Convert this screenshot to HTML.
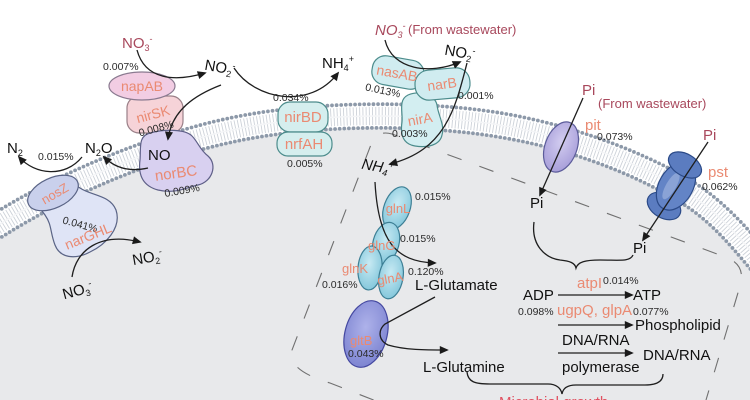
<!DOCTYPE html>
<html><head><meta charset="utf-8"><style>
html,body{margin:0;padding:0;background:#fff;width:750px;height:400px;overflow:hidden;}
body{position:relative;}
svg{display:block;font-family:"Liberation Sans",Arial,sans-serif;overflow:hidden;}
.g{fill:#ea8a72;}
.n{fill:#2a2a2a;font-size:10.5px;}
.c{fill:#111;font-size:15px;}
.r{fill:#a8485c;}
.ar{fill:none;stroke:#1e1e1e;stroke-width:1.3;marker-end:url(#a);}
.ln{fill:none;stroke:#1e1e1e;stroke-width:1.3;}
#mg{position:absolute;left:499px;top:396px;width:140px;height:4px;overflow:hidden;}
#mg div{position:relative;top:-1px;font-family:"Liberation Sans",Arial,sans-serif;font-size:15px;line-height:15px;color:#e05060;white-space:nowrap;}
</style></head><body>
<svg width="750" height="400" viewBox="0 0 750 400">
<defs>
<marker id="a" viewBox="0 0 10 10" refX="8" refY="5" markerWidth="10" markerHeight="9" markerUnits="userSpaceOnUse" orient="auto"><path d="M0,0.5 L10,5 L0,9.5 z" fill="#1a1a1a"/></marker>
<radialGradient id="gb" cx="0.45" cy="0.4" r="0.6"><stop offset="0" stop-color="#c8eaf3"/><stop offset="1" stop-color="#86c8dc"/></radialGradient>
<radialGradient id="gp" cx="0.45" cy="0.4" r="0.6"><stop offset="0" stop-color="#aeb2ea"/><stop offset="1" stop-color="#7f86d2"/></radialGradient>
<radialGradient id="gpit" cx="0.45" cy="0.4" r="0.6"><stop offset="0" stop-color="#d2ccf0"/><stop offset="1" stop-color="#a9a0da"/></radialGradient>
<clipPath id="clip"><rect x="0" y="0" width="750" height="400"/></clipPath>
</defs>
<g clip-path="url(#clip)">
<rect width="750" height="400" fill="#fff"/>
<!-- cell interior -->
<path d="M 0,238 L 2.8,236.3 C 72.8,192.3 154.9,158.5 234.9,141.5 C 304.9,126.5 397,123.8 477,133.8 C 557,143.8 627.7,170.6 677.7,200.6 C 707.7,218.6 726.6,240.4 750,268.5 L 750,400 L 0,400 Z" fill="#e8e9eb"/>
<!-- lipid tails -->
<path d="M -3.6,226.2 C 66.4,182.2 152.5,146.8 232.5,129.8 C 302.5,114.8 398.5,111.9 478.5,121.9 C 558.5,131.9 633.9,160.3 683.9,190.3 C 713.9,208.3 735.8,232.7 760.8,262.7" fill="none" stroke="#cdd2d9" stroke-width="18" stroke-dasharray="0.9 2.3"/>
<path d="M -3.6,226.2 C 66.4,182.2 152.5,146.8 232.5,129.8 C 302.5,114.8 398.5,111.9 478.5,121.9 C 558.5,131.9 633.9,160.3 683.9,190.3 C 713.9,208.3 735.8,232.7 760.8,262.7" fill="none" stroke="#f4f5f7" stroke-width="1.5"/>
<!-- head dots -->
<path d="M -10,216 C 60,172 150,135 230,118 C 300,103 400,100 480,110 C 560,120 640,150 690,180 C 720,198 745,225 770,255" fill="none" stroke="#8d99a9" stroke-width="3.8" stroke-linecap="round" stroke-dasharray="0 4.6"/>
<path d="M -10,244 L 2.8,236.3 C 72.8,192.3 154.9,158.5 234.9,141.5 C 304.9,126.5 397,123.8 477,133.8 C 557,143.8 627.7,170.6 677.7,200.6 C 707.7,218.6 726.6,240.4 751.6,270.4" fill="none" stroke="#8d99a9" stroke-width="3.8" stroke-linecap="round" stroke-dasharray="0 4.6"/>
<!-- dashed compartment -->
<path d="M 373.6,400 L 330,383 Q 286,370 292,350 L 372,142 Q 378,130 392,134 L 728,258 Q 746,266 740,286 L 706,400" fill="none" stroke="#707070" stroke-width="1.1" stroke-dasharray="15 19"/>

<!-- Denitrification proteins -->
<path d="M 35,190 C 50,182 70,180 80,188 C 92,196 110,195 116,210 C 122,228 105,245 90,252 C 75,260 60,258 55,245 C 50,232 52,225 45,215 C 38,205 28,198 35,190 Z" fill="#dfe4f6" stroke="#5a6486" stroke-width="1.2"/>
<ellipse cx="53" cy="193" rx="27" ry="15" transform="rotate(-25 53 193)" fill="#c9d0ec" stroke="#5a6486" stroke-width="1.2"/>
<rect x="127" y="96" width="56" height="37" rx="12" fill="#f6d3d8" stroke="#9a8088" stroke-width="1.2"/>
<ellipse cx="142" cy="86" rx="33" ry="14" fill="#f2cde3" stroke="#8a7a90" stroke-width="1.2"/>
<path d="M 150,133 C 165,129 185,129 192,136 C 198,142 200,150 208,156 C 218,165 212,182 198,185 C 185,188 175,194 158,190 C 143,186 138,175 140,160 C 141,148 138,136 150,133 Z" fill="#d8d0f0" stroke="#5f6088" stroke-width="1.2"/>

<!-- nirBD / nrfAH -->
<rect x="278" y="102" width="50" height="30" rx="12" fill="#d5eeee" stroke="#4c8c8c" stroke-width="1.2"/>
<rect x="277" y="132" width="55" height="24" rx="11" fill="#d5eeee" stroke="#4c8c8c" stroke-width="1.2"/>

<!-- assimilatory -->
<path d="M 408,95 C 420,90 435,95 437,105 C 438,115 445,125 442,135 C 440,145 428,148 415,146 C 403,144 400,135 402,122 C 403,112 398,100 408,95 Z" fill="#d3eef1" stroke="#4c8c8c" stroke-width="1.2"/>
<rect x="372" y="58" width="52" height="29" rx="13" transform="rotate(10 398 72)" fill="#d0ecf0" stroke="#4c8c8c" stroke-width="1.2"/>
<rect x="415" y="69" width="55" height="30" rx="14" transform="rotate(-5 442 84)" fill="#d0ecf0" stroke="#4c8c8c" stroke-width="1.2"/>

<!-- GS/GOGAT -->
<ellipse cx="397" cy="208" rx="13" ry="22" transform="rotate(20 397 208)" fill="url(#gb)" stroke="#3d7f95" stroke-width="1.2"/>
<ellipse cx="386" cy="243" rx="13" ry="21" transform="rotate(15 386 243)" fill="url(#gb)" stroke="#3d7f95" stroke-width="1.2"/>
<ellipse cx="370" cy="268" rx="12" ry="22" transform="rotate(5 370 268)" fill="url(#gb)" stroke="#3d7f95" stroke-width="1.2"/>
<ellipse cx="391" cy="277" rx="12" ry="22" transform="rotate(10 391 277)" fill="url(#gb)" stroke="#3d7f95" stroke-width="1.2"/>
<ellipse cx="366" cy="334" rx="21" ry="34" transform="rotate(15 366 334)" fill="url(#gp)" stroke="#4448a0" stroke-width="1.2"/>

<!-- pit -->
<ellipse cx="561" cy="147" rx="16" ry="26" transform="rotate(20 561 147)" fill="url(#gpit)" stroke="#5c5c9a" stroke-width="1.2"/>
<!-- pst -->
<ellipse cx="664" cy="206" rx="18" ry="12" transform="rotate(30 664 206)" fill="#5b7cc0" stroke="#2b4a88" stroke-width="1.2"/>
<ellipse cx="676" cy="186" rx="17" ry="26" transform="rotate(30 676 186)" fill="#6384c6" stroke="#2b4a88" stroke-width="1.2"/>
<ellipse cx="671" cy="186" rx="5" ry="15" transform="rotate(30 671 186)" fill="#8aa3d6"/>
<ellipse cx="685" cy="165" rx="18" ry="11" transform="rotate(30 685 165)" fill="#5b7cc0" stroke="#2b4a88" stroke-width="1.2"/>

<!-- arrows -->
<path class="ar" d="M 137,50 C 145,80 175,82 205,73"/>
<path class="ar" d="M 221,85 C 195,95 172,110 168,139"/>
<path class="ar" d="M 148,168 C 130,172 115,168 104,157"/>
<path class="ar" d="M 82,157 C 65,178 35,175 19,157"/>
<path class="ar" d="M 72,277 C 76,250 100,232 140,242"/>
<path class="ar" d="M 234,68 C 255,100 310,110 338,73"/>
<path class="ar" d="M 385,40 C 392,70 430,75 460,62"/>
<path class="ar" d="M 467,63 C 455,110 445,150 390,164"/>
<path class="ar" d="M 375,182 C 378,240 395,262 435,263"/>
<path class="ar" d="M 435,297 L 385,324 C 378,330 378,340 388,345 C 405,350 425,350 447,350"/>
<path class="ar" d="M 583,98 L 540,195"/>
<path class="ar" d="M 708,142 L 643,240"/>
<path class="ar" d="M 558,295 L 632,295"/>
<path class="ar" d="M 558,325 L 632,325"/>
<path class="ar" d="M 558,353 L 632,353"/>
<path class="ln" d="M 534,222 C 531,245 545,258 560,260 C 570,261 575,263 576,268 C 578,262 585,260 600,260 C 620,260 630,262 633,255"/>
<path class="ln" d="M 467,372 C 468,382 475,384 490,384 L 548,384 C 556,384 561,388 562,394 C 563,388 568,385 576,385 L 645,385 C 658,385 663,381 663,374"/>

<!-- text: denitrification -->
<text x="122" y="48" class="r" font-size="15">NO<tspan font-size="9" dy="3">3</tspan><tspan font-size="9" dy="-9">-</tspan></text>
<text x="103" y="70" class="n">0.007%</text>
<text x="205" y="72" class="c" transform="rotate(10 218 65)">NO<tspan font-size="9" dy="3">2</tspan><tspan font-size="9" dy="-9">-</tspan></text>
<text x="142" y="91" class="g" font-size="14" text-anchor="middle">napAB</text>
<text x="153" y="119" class="g" font-size="14" text-anchor="middle" transform="rotate(-15 153 114)">nirSK</text>
<text x="156" y="132" class="n" text-anchor="middle" transform="rotate(-15 156 128)">0.008%</text>
<text x="148" y="160" class="c" font-size="17">NO</text>
<text x="176" y="178" class="g" font-size="15" text-anchor="middle" transform="rotate(-8 176 173)">norBC</text>
<text x="182" y="194" class="n" text-anchor="middle" transform="rotate(-10 182 190)">0.009%</text>
<text x="85" y="153" class="c">N<tspan font-size="9" dy="3">2</tspan><tspan dy="-3">O</tspan></text>
<text x="7" y="153" class="c">N<tspan font-size="9" dy="3">2</tspan></text>
<text x="38" y="160" class="n">0.015%</text>
<text x="55" y="198" class="g" font-size="13" text-anchor="middle" transform="rotate(-30 55 194)">nosZ</text>
<text x="80" y="228" class="n" text-anchor="middle" transform="rotate(15 80 225)">0.041%</text>
<text x="88" y="241" class="g" font-size="14" text-anchor="middle" transform="rotate(-22 88 236)">narGHL</text>
<text x="132" y="263" class="c" transform="rotate(-10 145 257)">NO<tspan font-size="9" dy="3">2</tspan><tspan font-size="9" dy="-9">-</tspan></text>
<text x="62" y="296" class="c" transform="rotate(-15 76 290)">NO<tspan font-size="9" dy="3">3</tspan><tspan font-size="9" dy="-9">-</tspan></text>

<!-- DNRA -->
<text x="273" y="101" class="n">0.034%</text>
<text x="322" y="68" class="c">NH<tspan font-size="9" dy="3">4</tspan><tspan font-size="9" dy="-9">+</tspan></text>
<text x="303" y="122" class="g" font-size="15" text-anchor="middle">nirBD</text>
<text x="304" y="149" class="g" font-size="15" text-anchor="middle">nrfAH</text>
<text x="287" y="167" class="n">0.005%</text>

<!-- assimilation -->
<text x="375" y="35" class="r" font-size="15" font-style="italic">NO<tspan font-size="9" dy="3">3</tspan><tspan font-size="9" dy="-9">-</tspan></text>
<text x="408" y="34" class="r" font-size="13">(From wastewater)</text>
<text x="445" y="57" class="c" transform="rotate(10 458 50)">NO<tspan font-size="9" dy="3">2</tspan><tspan font-size="9" dy="-9">-</tspan></text>
<text x="397" y="78" class="g" font-size="14" text-anchor="middle" transform="rotate(10 397 73)">nasAB</text>
<text x="442" y="89" class="g" font-size="14" text-anchor="middle" transform="rotate(-8 442 84)">narB</text>
<text x="383" y="94" class="n" text-anchor="middle" transform="rotate(12 383 90)">0.013%</text>
<text x="458" y="99" class="n">0.001%</text>
<text x="420" y="124" class="g" font-size="14" text-anchor="middle" transform="rotate(-10 420 119)">nirA</text>
<text x="392" y="137" class="n">0.003%</text>
<text x="362" y="171" class="c" font-style="italic" transform="rotate(10 375 164)">NH<tspan font-size="9" dy="3">4</tspan><tspan font-size="9" dy="-9">+</tspan></text>

<!-- GS -->
<text x="398" y="213" class="g" font-size="13" text-anchor="middle">glnL</text>
<text x="415" y="200" class="n">0.015%</text>
<text x="368" y="250" class="g" font-size="13">glnG</text>
<text x="400" y="242" class="n">0.015%</text>
<text x="342" y="273" class="g" font-size="13">glnK</text>
<text x="377" y="283" class="g" font-size="13" transform="rotate(-10 390 278)">glnA</text>
<text x="322" y="288" class="n">0.016%</text>
<text x="408" y="275" class="n">0.120%</text>
<text x="415" y="290" class="c">L-Glutamate</text>
<text x="350" y="345" class="g" font-size="13">gltB</text>
<text x="348" y="357" class="n">0.043%</text>
<text x="423" y="372" class="c">L-Glutamine</text>

<!-- P -->
<text x="582" y="95" class="r" font-size="15">Pi</text>
<text x="598" y="108" class="r" font-size="13">(From wastewater)</text>
<text x="585" y="130" class="g" font-size="15">pit</text>
<text x="597" y="140" class="n">0.073%</text>
<text x="530" y="208" class="c">Pi</text>
<text x="703" y="140" class="r" font-size="15">Pi</text>
<text x="708" y="177" class="g" font-size="15">pst</text>
<text x="702" y="190" class="n">0.062%</text>
<text x="633" y="253" class="c">Pi</text>
<text x="577" y="288" class="g" font-size="15">atpI</text>
<text x="603" y="284" class="n">0.014%</text>
<text x="523" y="300" class="c">ADP</text>
<text x="633" y="300" class="c">ATP</text>
<text x="518" y="315" class="n">0.098%</text>
<text x="557" y="315" class="g" font-size="15">ugpQ, glpA</text>
<text x="633" y="315" class="n">0.077%</text>
<text x="635" y="330" class="c">Phospholipid</text>
<text x="562" y="345" class="c">DNA/RNA</text>
<text x="643" y="360" class="c">DNA/RNA</text>
<text x="562" y="372" class="c">polymerase</text>
</g>
</svg>
<div id="mg"><div>Microbial growth</div></div>
</body></html>
